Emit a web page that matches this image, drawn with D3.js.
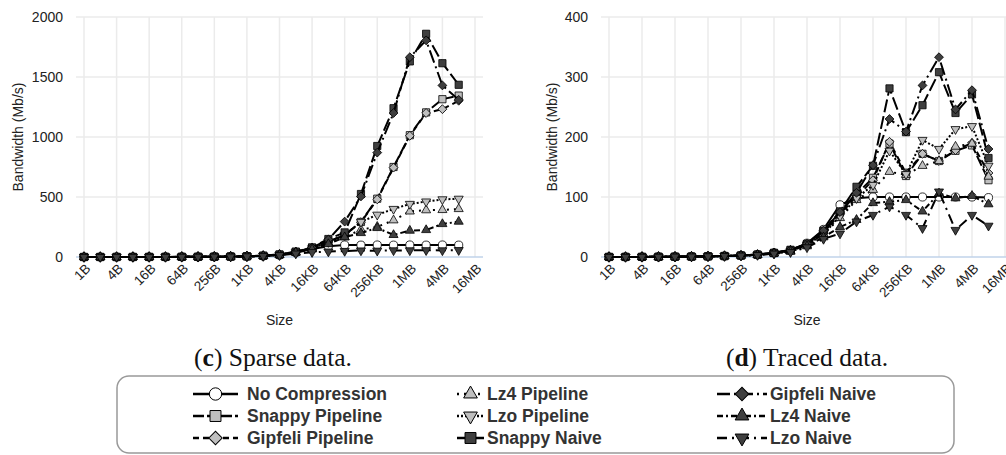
<!DOCTYPE html>
<meta charset="utf-8">
<style>
  body { margin: 0; background: #fff; }
  text { font-family: "Liberation Sans", Arial, sans-serif; }
</style>
<body>
<script src="https://cdn.jsdelivr.net/npm/d3@7/dist/d3.min.js"></script>
<script>

// message sizes on the x axis (last one has no data point)
var sizes = ["1B","2B","4B","8B","16B","32B","64B","128B","256B","512B","1KB","2KB","4KB","8KB",
  "16KB","32KB","64KB","128KB","256KB","512KB","1MB","2MB","4MB","8MB","16MB"];
var tickLabels = ["1B","4B","16B","64B","256B","1KB","4KB","16KB","64KB","256KB","1MB","4MB","16MB"];

var seriesNames = ["No Compression","Snappy Pipeline","Gipfeli Pipeline","Lz4 Pipeline","Lzo Pipeline",
  "Snappy Naive","Gipfeli Naive","Lz4 Naive","Lzo Naive"];

// (c) sparse data, Mb/s
var sparseNoCompression  = [0.1,0.1,0.2,0.3,0.5,0.7,1.1,1.6,2.4,3.5,5,8,16,36,66,90,100,99,100,99,100,99,100,99];
var sparseSnappyPipeline = [0.1,0.1,0.2,0.3,0.5,0.7,1.1,1.6,2.4,3.6,6,10,19,42,76,128,182,292,486,750,1015,1205,1315,1345];
var sparseGipfeliPipeline= [0.1,0.1,0.2,0.3,0.5,0.7,1.1,1.6,2.4,3.6,6,10,19,41,74,126,186,290,480,745,1010,1200,1232,1302];
var sparseLz4Pipeline    = [0.1,0.1,0.2,0.3,0.5,0.7,1.1,1.6,2.4,3.5,6,9,18,39,70,118,165,228,252,306,380,390,392,400];
var sparseLzoPipeline    = [0.1,0.1,0.2,0.3,0.5,0.7,1.1,1.6,2.4,3.5,6,9,18,40,72,124,182,292,352,400,442,462,480,485];
var sparseSnappyNaive    = [0.1,0.1,0.2,0.3,0.5,0.7,1.1,1.6,2.5,3.8,6,11,21,45,80,150,205,525,925,1240,1630,1860,1615,1435];
var sparseGipfeliNaive   = [0.1,0.1,0.2,0.3,0.5,0.7,1.1,1.6,2.5,3.8,6,11,21,44,78,146,295,505,870,1200,1665,1805,1430,1310];
var sparseLz4Naive       = [0.1,0.1,0.2,0.3,0.5,0.7,1.1,1.6,2.4,3.5,6,9,18,37,64,108,165,200,242,184,220,225,275,295];
var sparseLzoNaive       = [0.1,0.1,0.2,0.3,0.5,0.7,1.1,1.6,2.3,3.3,5,8,15,28,40,45,50,54,52,55,55,56,55,57];

// (d) traced data, Mb/s
var tracedNoCompression  = [0.1,0.1,0.2,0.3,0.5,0.7,1.1,1.6,2.5,4,7,11,23,46,87,98,100,100,100,100,100,100,100,99];
var tracedSnappyPipeline = [0.1,0.1,0.2,0.3,0.5,0.7,1.1,1.6,2.4,3.8,6.5,11,21,40,74,105,132,189,135,172,160,177,186,128];
var tracedGipfeliPipeline= [0.1,0.1,0.2,0.3,0.5,0.7,1.1,1.6,2.4,3.8,6.5,11,21,40,72,100,128,192,140,172,160,178,190,140];
var tracedLz4Pipeline    = [0.1,0.1,0.2,0.3,0.5,0.7,1.1,1.6,2.4,3.7,6.3,10,20,38,65,95,112,142,137,152,160,184,189,134];
var tracedLzoPipeline    = [0.1,0.1,0.2,0.3,0.5,0.7,1.1,1.6,2.4,3.7,6.3,10,20,38,68,98,120,177,138,195,180,213,218,152];
var tracedSnappyNaive    = [0.1,0.1,0.2,0.3,0.5,0.7,1.1,1.6,2.5,4,7,12,22,44,76,117,152,281,208,253,308,240,271,165];
var tracedGipfeliNaive   = [0.1,0.1,0.2,0.3,0.5,0.7,1.1,1.6,2.5,4,7,12,22,44,75,107,153,230,209,286,333,246,278,180];
var tracedLz4Naive       = [0.1,0.1,0.2,0.3,0.5,0.7,1.1,1.6,2.3,3.4,6,9,18,33,50,62,90,92,95,76,106,98,102,88];
var tracedLzoNaive       = [0.1,0.1,0.2,0.3,0.5,0.7,1.1,1.6,2.2,3.2,5.5,8,16,30,39,59,70,84,70,48,109,45,70,52];

var sparseTicks = [0, 500, 1000, 1500, 2000];
var tracedTicks = [0, 100, 200, 300, 400];

// look of each series (same order as seriesNames)
var LIGHT = "#bfbfbf", DARK = "#3f3f3f";
var styles = [
  {dash: null,         shape: "circle",  fill: "#fff"},
  {dash: "11,3",       shape: "square",  fill: LIGHT},
  {dash: "6,4",        shape: "diamond", fill: LIGHT},
  {dash: "2,5",        shape: "up",      fill: LIGHT},
  {dash: "2,2",        shape: "down",    fill: LIGHT},
  {dash: "13,4",       shape: "square",  fill: DARK},
  {dash: "13,4,2,4",   shape: "diamond", fill: DARK},
  {dash: "6,3,2,3",    shape: "up",      fill: DARK},
  {dash: "10,5,2,5",   shape: "down",    fill: DARK}
];

var W = 1006, H = 455;
var svg = d3.select("body").append("svg")
    .attr("width", W)
    .attr("height", H);

function marker(sel, shape, size) {
  var t = {circle: d3.symbolCircle, square: d3.symbolSquare, diamond: d3.symbolSquare,
           up: d3.symbolTriangle, down: d3.symbolTriangle}[shape];
  var s = shape == "diamond" ? size * 0.75 : (shape == "up" || shape == "down") ? size * 0.68 : size;
  sel.attr("d", d3.symbol().type(t).size(s)())
     .attr("transform", function() {
       var base = d3.select(this).attr("data-pos");
       var rot = shape == "diamond" ? " rotate(45)" : shape == "down" ? " rotate(180)" : "";
       return base + rot;
     });
}

function panel(opt) {
  var g = svg.append("g");
  var x = d3.scalePoint().domain(sizes).range(opt.xr);
  var y = d3.scaleLinear().domain([0, opt.ticks[opt.ticks.length - 1]]).range([257, 17]);
  var gl = opt.xr[0] - 8, gr = opt.xr[1] + 8;

  // grid
  g.selectAll(".hg").data(opt.ticks.slice(1)).enter().append("line")
    .attr("x1", gl).attr("x2", gr)
    .attr("y1", d => y(d)).attr("y2", d => y(d))
    .attr("stroke", "#ebebeb").attr("stroke-width", 1.5);
  g.selectAll(".vg").data(tickLabels).enter().append("line")
    .attr("x1", d => x(d)).attr("x2", d => x(d))
    .attr("y1", y(opt.ticks[opt.ticks.length - 1])).attr("y2", y(0))
    .attr("stroke", "#ebebeb").attr("stroke-width", 1.5);
  g.append("line")
    .attr("x1", gl).attr("x2", gr).attr("y1", y(0)).attr("y2", y(0))
    .attr("stroke", "#c0d3ea").attr("stroke-width", 1.5);

  // y tick labels
  g.selectAll(".yt").data(opt.ticks).enter().append("text")
    .attr("x", gl - 13).attr("y", d => y(d)).attr("dy", "0.35em")
    .attr("text-anchor", "end").attr("font-size", 14).attr("fill", "#222")
    .text(d => d);
  // x tick labels
  g.selectAll(".xt").data(tickLabels).enter().append("text")
    .attr("transform", d => "translate(" + (x(d) + 4) + "," + 266 + ") rotate(-45)")
    .attr("text-anchor", "end").attr("dy", "0.35em")
    .attr("font-size", 13.5).attr("fill", "#222")
    .text(d => d);

  g.append("text")
    .attr("transform", "translate(" + opt.ytx + ",137) rotate(-90)")
    .attr("text-anchor", "middle").attr("dy", "0.35em")
    .attr("font-size", 14).attr("fill", "#222")
    .text("Bandwidth (Mb/s)");
  g.append("text")
    .attr("x", (gl + gr) / 2).attr("y", 325)
    .attr("text-anchor", "middle").attr("font-size", 14).attr("fill", "#222")
    .text("Size");

  var line = d3.line().x((d, i) => x(sizes[i])).y(d => y(d));
  opt.series.forEach(function(vals, k) {
    var st = styles[k];
    g.append("path").datum(vals)
      .attr("d", line).attr("fill", "none")
      .attr("stroke", "#000").attr("stroke-width", 2)
      .attr("stroke-dasharray", st.dash);
    g.selectAll(".m" + k).data(vals).enter().append("path")
      .attr("data-pos", (d, i) => "translate(" + x(sizes[i]) + "," + y(d) + ")")
      .attr("fill", st.fill).attr("stroke", "#000").attr("stroke-width", 0.8)
      .call(marker, st.shape, 52);
  });

  // caption
  var cap = svg.append("text")
    .attr("x", opt.capx).attr("y", 366)
    .attr("text-anchor", "middle")
    .style("font-family", "'Liberation Serif', 'Times New Roman', serif")
    .attr("font-size", 25.5).attr("fill", "#111");
  cap.append("tspan").text("(");
  cap.append("tspan").attr("font-weight", "bold").text(opt.letter);
  cap.append("tspan").text(") " + opt.caption);
}

panel({xr: [84, 475], ticks: sparseTicks, ytx: 18, capx: 273, letter: "c", caption: "Sparse data.",
  series: [sparseNoCompression, sparseSnappyPipeline, sparseGipfeliPipeline, sparseLz4Pipeline, sparseLzoPipeline,
           sparseSnappyNaive, sparseGipfeliNaive, sparseLz4Naive, sparseLzoNaive]});
panel({xr: [609, 1005], ticks: tracedTicks, ytx: 552, capx: 807, letter: "d", caption: "Traced data.",
  series: [tracedNoCompression, tracedSnappyPipeline, tracedGipfeliPipeline, tracedLz4Pipeline, tracedLzoPipeline,
           tracedSnappyNaive, tracedGipfeliNaive, tracedLz4Naive, tracedLzoNaive]});

// legend
var leg = svg.append("g");
leg.append("rect")
  .attr("x", 117).attr("y", 376).attr("width", 837).attr("height", 77)
  .attr("rx", 12).attr("fill", "#fff").attr("stroke", "#999").attr("stroke-width", 1.5);

var cols = [{x0: 193, x1: 238, tx: 247}, {x0: 457, x1: 484, tx: 487}, {x0: 717, x1: 767, tx: 770}];
seriesNames.forEach(function(name, k) {
  var c = cols[Math.floor(k / 3)], yy = 394 + (k % 3) * 22, st = styles[k];
  leg.append("line")
    .attr("x1", c.x0).attr("x2", c.x1).attr("y1", yy).attr("y2", yy)
    .attr("stroke", "#000").attr("stroke-width", 2.5)
    .attr("stroke-dasharray", st.dash);
  leg.append("path")
    .attr("data-pos", "translate(" + ((c.x0 + c.x1) / 2) + "," + yy + ")")
    .attr("fill", st.fill).attr("stroke", "#000").attr("stroke-width", 1)
    .call(marker, st.shape, 120);
  leg.append("text")
    .attr("x", c.tx).attr("y", yy).attr("dy", "0.35em")
    .attr("font-size", 17.5).attr("font-weight", "bold").attr("fill", "#333")
    .text(name);
});

</script>
</body>
